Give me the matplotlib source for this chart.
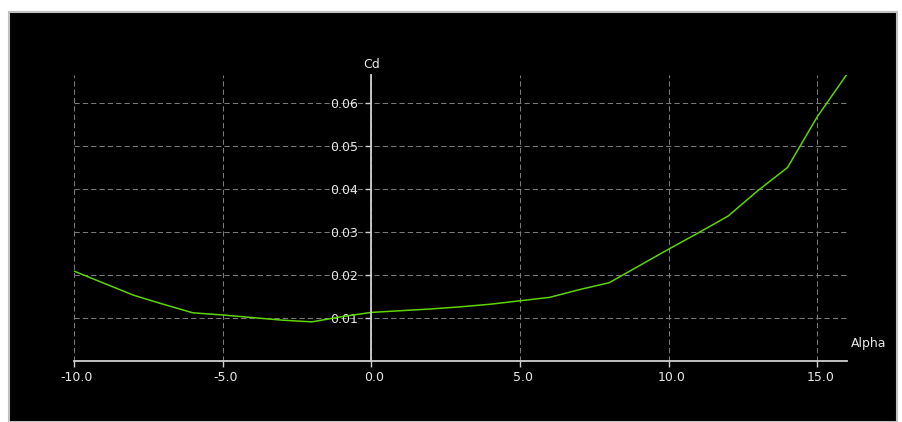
import matplotlib
matplotlib.use("Agg")
import matplotlib.pyplot as plt
import matplotlib.transforms as mtransforms
from matplotlib.patches import Rectangle

# ---- data ----
alpha = [-10, -9, -8, -7, -6, -5, -4, -3, -2, -1, 0, 1, 2, 3, 4, 5, 6, 7, 8,
         9, 10, 11, 12, 13, 14, 15, 16]
cd = [0.0209, 0.0181, 0.0153, 0.0132, 0.0112, 0.0107, 0.0101, 0.0095, 0.0091,
      0.0103, 0.0113, 0.0117, 0.0121, 0.0126, 0.0132, 0.0140, 0.0148, 0.0166,
      0.0182, 0.0221, 0.0260, 0.0298, 0.0337, 0.0396, 0.0450, 0.0568, 0.0667]
xticks = [-10, -5, 0, 5, 10, 15]
xticklabels = ["-10.0", "-5.0", "0.0", "5.0", "10.0", "15.0"]
yticks = [0.01, 0.02, 0.03, 0.04, 0.05, 0.06]
yticklabels = ["0.01", "0.02", "0.03", "0.04", "0.05", "0.06"]
xlabel = "Alpha"
ylabel = "Cd"

W, H = 902, 422
fig = plt.figure(figsize=(W / 100, H / 100), dpi=100, facecolor="white")

# black panel with light gray frame
fig.patches.append(Rectangle((9 / W, 0), (897 - 9) / W, (H - 12) / H,
                             transform=fig.transFigure, facecolor="black",
                             edgecolor="#c0c0c0", linewidth=1.5, zorder=-5))

# axes: x -10..16 -> px 74..847 ; y 0..0.0665 -> px 361..75
x0, x1 = 74, 847
y0, y1 = 361, 75
ax = fig.add_axes([x0 / W, (H - y0) / H, (x1 - x0) / W, (y0 - y1) / H])
ax.set_zorder(2)
ax.set_facecolor("none")
ax.set_xlim(-10, 16)
ax.set_ylim(0, 0.0665)

ax.plot(alpha, cd, color="#5ed400", linewidth=1.1, zorder=3)

# spines through origin
for s in ["top", "right"]:
    ax.spines[s].set_visible(False)
ax.spines["left"].set_position(("data", 0))
ax.spines["bottom"].set_position(("data", 0))
for s in ["left", "bottom"]:
    ax.spines[s].set_color("#d0d0d0")
    ax.spines[s].set_linewidth(1.3)
    ax.spines[s].set_zorder(4)

ax.set_xticks(xticks)
ax.set_xticklabels(xticklabels)
ax.set_yticks(yticks)
ax.set_yticklabels(yticklabels)
ax.tick_params(axis="both", colors="#d0d0d0", labelcolor="#e8e8e8",
               labelsize=9, direction="out", length=4.5, width=1.0, pad=3)
ax.tick_params(axis="y", pad=5)

offset = mtransforms.ScaledTranslation(3 / 100, 0, fig.dpi_scale_trans)
for lab in ax.get_xticklabels():
    lab.set_transform(lab.get_transform() + offset)
for lab in ax.get_yticklabels():
    lab.set_zorder(5)

ax.grid(True, color="#7a7a7a", linestyle=(0, (5, 3)), linewidth=0.75)
ax.set_axisbelow(True)

fig.text(372 / W, 1 - 65 / H, ylabel, color="#e8e8e8", fontsize=9,
         ha="center", va="center", zorder=6)
fig.text(869 / W, 1 - 343 / H, xlabel, color="#e8e8e8", fontsize=9,
         ha="center", va="center", zorder=6)

fig.savefig("out.png", dpi=100, facecolor="white")
